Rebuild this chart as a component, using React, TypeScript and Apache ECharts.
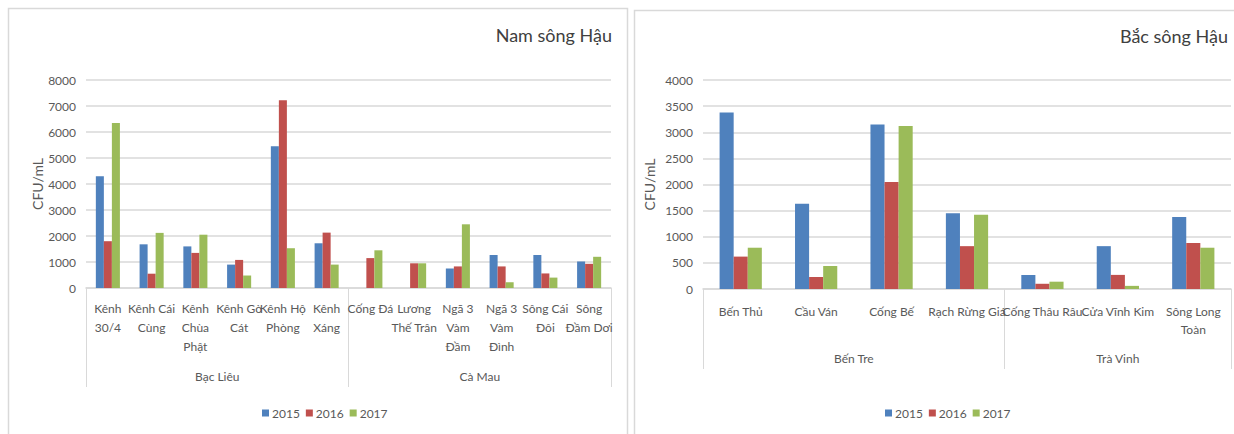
import React, { useEffect, useRef } from "react";
import * as echarts from "echarts";

const namCategories = [
  "Kênh\n30/4", "Kênh Cái\nCùng", "Kênh\nChùa\nPhật", "Kênh Gò\nCát", "Kênh Hộ\nPhòng", "Kênh\nXáng",
  "Cống Đá", "Lương\nThế Trân", "Ngã 3\nVàm\nĐầm", "Ngã 3\nVàm\nĐình", "Sông Cái\nĐôi", "Sông\nĐầm Dơi",
];
const namGroups = ["Bạc Liêu", "Cà Mau"];
const namGroupSizes = [6, 6];
const nam2015 = [4300, 1680, 1600, 900, 5450, 1720, null, null, 750, 1270, 1270, 1020];
const nam2016 = [1800, 550, 1350, 1080, 7220, 2130, 1150, 950, 830, 830, 560, 930];
const nam2017 = [6350, 2120, 2050, 480, 1530, 900, 1450, 950, 2450, 220, 400, 1200];

const bacCategories = ["Bến Thủ", "Cầu Ván", "Cống Bế", "Rạch Rừng Giá", "Cống Thâu Râu", "Cửa Vĩnh Kim", "Sông Long\nToàn"];
const bacGroups = ["Bến Tre", "Trà Vinh"];
const bacGroupSizes = [4, 3];
const bac2015 = [3380, 1630, 3150, 1450, 270, 820, 1380];
const bac2016 = [620, 230, 2050, 820, 100, 270, 880];
const bac2017 = [790, 440, 3120, 1420, 140, 60, 790];

const years = ["2015", "2016", "2017"];
const colors = ["#4F81BD", "#C0504D", "#9BBB59"];

const FONT = "Lato, 'Liberation Sans', sans-serif";
const TEXT = "#595959";
const GRID = "#D9D9D9";

// Half-category point axis: point i sits at i/2 categories from the left edge.
function groupPoints(groups: string[], sizes: number[]) {
  const total = sizes.reduce((a, b) => a + b, 0);
  const data: string[] = new Array(2 * total + 1).fill("");
  const ticks = new Set<number>([2 * total]);
  let start = 0;
  groups.forEach((g, k) => {
    data[2 * start + sizes[k]] = g;
    ticks.add(2 * start);
    start += sizes[k];
  });
  return { data, ticks };
}

export default function App() {
  const ref = useRef<HTMLDivElement>(null);
  useEffect(() => {
    if (!ref.current) return;
    const chart = echarts.init(ref.current, null, { renderer: "svg" });
    const yAxisBase = (max: number, interval: number, gap: number) => ({
      type: "value",
      min: 0,
      max,
      interval,
      name: "CFU/mL",
      nameLocation: "middle",
      nameGap: gap,
      nameTextStyle: { color: TEXT, fontSize: 14, fontFamily: FONT },
      axisLine: { show: false },
      axisTick: { show: false },
      axisLabel: { color: TEXT, fontSize: 12, fontFamily: FONT, margin: 10, formatter: (v: number) => String(v) },
      splitLine: { lineStyle: { color: GRID, width: 1.6 } },
    });
    const catAxis = (grid: number, data: string[], margin: number, lh: number) => ({
      type: "category",
      gridIndex: grid,
      data,
      position: "bottom",
      axisLine: { lineStyle: { color: GRID, width: 1.6 } },
      axisTick: { show: false },
      axisLabel: { interval: 0, color: TEXT, fontSize: 12, fontFamily: FONT, margin, lineHeight: lh },
    });
    const groupAxis = (grid: number, groups: string[], sizes: number[], offset: number) => {
      const { data, ticks } = groupPoints(groups, sizes);
      return {
        type: "category",
        gridIndex: grid,
        data,
        boundaryGap: false,
        position: "bottom",
        offset,
        axisLine: { show: false },
        axisTick: { show: true, inside: true, length: offset, interval: (i: number) => ticks.has(i), lineStyle: { color: GRID, width: 1 } },
        axisLabel: { inside: true, interval: 0, color: TEXT, fontSize: 12, fontFamily: FONT, margin: 5, showMinLabel: true, showMaxLabel: true },
      };
    };
    const mkSeries = (vals: (number | null)[], i: number, axis: number, gap: string) => ({
      type: "bar",
      name: years[i],
      data: vals,
      xAxisIndex: axis,
      yAxisIndex: axis === 0 ? 0 : 1,
      barGap: "0%",
      barCategoryGap: gap,
      itemStyle: { color: colors[i] },
    });
    const legend = (left: number) => ({
      data: years,
      top: 402,
      left,
      icon: "rect",
      itemWidth: 7,
      itemHeight: 7,
      itemGap: 6,
      textStyle: { color: TEXT, fontSize: 12, fontFamily: FONT, padding: [0, 0, 0, -2] },
    });
    chart.setOption({
      animation: false,
      backgroundColor: "#ffffff",
      title: [
        { text: "Nam sông Hậu", right: 617, top: 21, textStyle: { color: "#404040", fontSize: 18, fontWeight: "normal", fontFamily: FONT } },
        { text: "Bắc sông Hậu", right: 1, top: 22, textStyle: { color: "#404040", fontSize: 18, fontWeight: "normal", fontFamily: FONT } },
      ],
      legend: [legend(257), legend(880)],
      grid: [
        { left: 86, width: 525, top: 80, height: 208 },
        { left: 703, width: 531, top: 80, height: 209 },
      ],
      xAxis: [
        catAxis(0, namCategories, 11, 19),
        groupAxis(0, namGroups, namGroupSizes, 99),
        catAxis(1, bacCategories, 13, 18),
        groupAxis(1, bacGroups, bacGroupSizes, 80),
      ],
      yAxis: [
        { ...yAxisBase(8000, 1000, 42), gridIndex: 0 },
        { ...yAxisBase(4000, 500, 47), gridIndex: 1 },
      ],
      series: [
        mkSeries(nam2015, 0, 0, "45%"),
        mkSeries(nam2016, 1, 0, "45%"),
        mkSeries(nam2017, 2, 0, "45%"),
        mkSeries(bac2015, 0, 2, "44%"),
        mkSeries(bac2016, 1, 2, "44%"),
        mkSeries(bac2017, 2, 2, "44%"),
      ],
      graphic: [
        { type: "rect", shape: { x: 8.5, y: 8.5, width: 619, height: 460 }, style: { fill: "none", stroke: GRID, lineWidth: 1.5 }, silent: true },
        { type: "rect", shape: { x: 634.5, y: 10.5, width: 640, height: 460 }, style: { fill: "none", stroke: GRID, lineWidth: 1.5 }, silent: true },
      ],
    });
    return () => chart.dispose();
  }, []);
  return <div ref={ref} style={{ position: "absolute", left: 0, top: 0, width: 1234, height: 434 }} />;
}
